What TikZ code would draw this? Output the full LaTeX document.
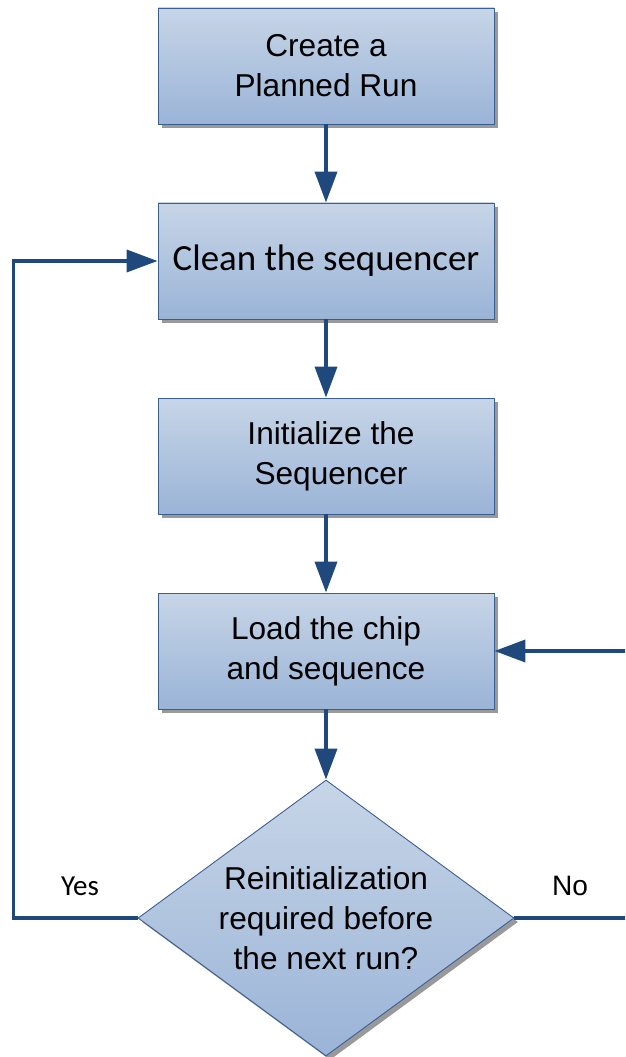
\documentclass[tikz,border=0pt]{standalone}
\usepackage{fontspec}
\setmainfont{Liberation Sans}
\newfontfamily\cleanfont{Carlito}
\usetikzlibrary{arrows.meta, shapes.geometric, shadows}
\definecolor{boxtop}   {HTML}{C7D5E7}
\definecolor{boxbottom}{HTML}{9AB4D7}
\definecolor{boxedge}  {HTML}{3A5D92}
\definecolor{flowline} {HTML}{1F497D}

\begin{document}
\begin{tikzpicture}[
  % One look for every step, a blue fade from top to bottom with a grey
  % shadow set off to the lower right.
  stepbox/.style={draw=boxedge, line width=0.5pt, top color=boxtop, bottom color=boxbottom,
                  minimum width=6.72cm, minimum height=2.32cm, inner sep=0pt,
                  align=center, font=\fontsize{18}{22.8}\selectfont,
                  drop shadow={shadow xshift=0.08cm, shadow yshift=-0.08cm, fill=black!40, opacity=1}},
  % aspect kept at the width/height ratio so the minimum sizes win
  decision/.style={stepbox, diamond, aspect=1.36, minimum width=7.52cm, minimum height=5.52cm},
  flow/.style={-{Triangle[length=0.62cm, width=0.44cm]}, line width=2.2pt, color=flowline},
  answer/.style={font=\fontsize{16}{19}\selectfont}
]

\useasboundingbox (0,0) rectangle (12.5,-21.14);
\clip (0,0) rectangle (12.5,-21.14);

\node[stepbox]  (create) at (6.52, -1.32)  {Create a\\Planned Run};
\node[stepbox, font=\cleanfont\fontsize{21}{25}\selectfont]
                (clean)  at (6.52, -5.22)  {Clean the sequencer};
\node[stepbox]  (init)   at (6.52, -9.12)  {\hspace*{0.2cm}Initialize the\\\hspace*{0.2cm}Sequencer};
\node[stepbox]  (load)   at (6.52, -13.02) {Load the chip\\and sequence};
\node[decision] (reinit) at (6.52, -18.36) {Reinitialization\\required before\\the next run?};

\draw[flow] (create) -- (clean);
\draw[flow] (clean) -- (init);
\draw[flow] (init) -- (load);
\draw[flow] (load) -- (reinit);

% loop back on the left, carry on to the right (runs past the edge)
\coordinate (yesturn) at (0.27, -18.36);
\coordinate (noturn)  at (13.0, -18.36);
\draw[flow] (reinit.west) -- (yesturn) |- (clean.west);
\draw[flow] (reinit.east) -- (noturn) |- (load.east);

\node[answer, font=\cleanfont\fontsize{16.5}{19}\selectfont] (yes) at (1.6, -17.72) {Yes};
\node[answer] (no) at (11.4, -17.72) {No};

\end{tikzpicture}
\end{document}
